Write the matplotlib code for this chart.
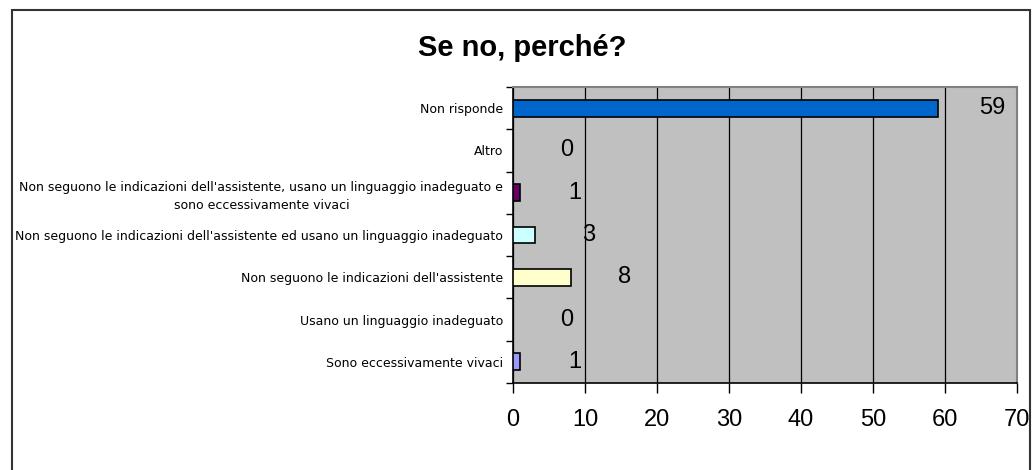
import matplotlib.pyplot as plt
import matplotlib.patches as patches
from matplotlib.ticker import MultipleLocator, FixedLocator

# Dati (dall'alto verso il basso)
categorie = [
    "Non risponde",
    "Altro",
    "Non seguono le indicazioni dell'assistente, usano un linguaggio inadeguato e\nsono eccessivamente vivaci",
    "Non seguono le indicazioni dell'assistente ed usano un linguaggio inadeguato",
    "Non seguono le indicazioni dell'assistente",
    "Usano un linguaggio inadeguato",
    "Sono eccessivamente vivaci",
]
valori = [59, 0, 1, 3, 8, 0, 1]
colori = ["#0066CC", "#C0C0C0", "#660066", "#CCFFFF", "#FFFFCC", "#C0C0C0", "#9999FF"]
titolo = "Se no, perché?"

plt.rcParams['font.family'] = ['Liberation Sans', 'DejaVu Sans']

fig = plt.figure(figsize=(10.32, 4.70), dpi=100)
ax = fig.add_axes([513 / 1032, 1 - 383 / 470, (1017 - 513) / 1032, (383 - 87) / 470])

pos = list(range(len(categorie)))
ax.barh(pos, valori, height=0.4, color=colori, edgecolor='black', linewidth=1.2, zorder=3)

ax.set_facecolor('#C0C0C0')
ax.set_xlim(0, 70)
ax.set_ylim(len(categorie) - 0.5, -0.5)

# Griglia verticale
ax.xaxis.set_major_locator(MultipleLocator(10))
ax.grid(axis='x', color='black', linewidth=0.9, zorder=1)
ax.set_axisbelow(True)

# Etichette delle categorie
ax.set_yticks(pos)
ax.set_yticklabels(categorie, fontsize=9, family=['DejaVu Sans'],
                   multialignment='center', linespacing=1.5)
ax.tick_params(axis='y', which='major', length=0, pad=7)
ax.yaxis.set_minor_locator(FixedLocator([p + 0.5 for p in range(-1, len(categorie))]))
ax.tick_params(axis='y', which='minor', length=5, width=1, direction='out')

ax.tick_params(axis='x', labelsize=17, length=7, width=1, direction='out', pad=12)

for s in ['left', 'bottom']:
    ax.spines[s].set_color('black')
    ax.spines[s].set_linewidth(1.2)
for s in ['top', 'right']:
    ax.spines[s].set_color('#808080')
    ax.spines[s].set_linewidth(1.5)

# Etichette dei valori
for p, v in zip(pos, valori):
    ax.annotate(str(v), xy=(v, p), xytext=(39, 0), textcoords='offset points',
                ha='center', va='center', fontsize=17, zorder=4)

fig.text(522 / 1032, 1 - 48 / 470, titolo, ha='center', va='center',
         fontsize=21, fontweight='bold')

# Cornice del grafico
fig.patches.append(patches.Rectangle((12 / 1032, -0.02), (1030 - 12) / 1032, 1 - 10 / 470 + 0.02,
                                     transform=fig.transFigure, fill=False,
                                     edgecolor='#333333', linewidth=1.5))

fig.savefig('out.png', dpi=100)
plt.close(fig)
